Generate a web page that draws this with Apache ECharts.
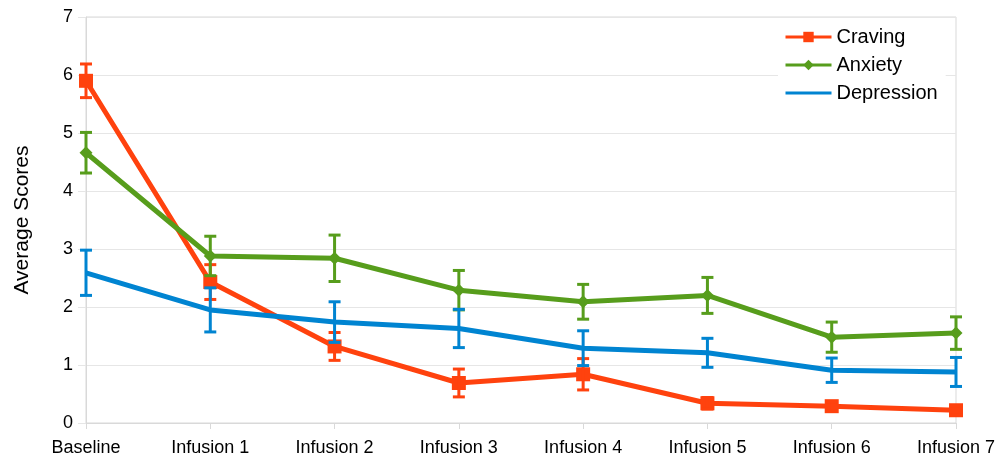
<!DOCTYPE html>
<html>
<head>
<meta charset="utf-8">
<script src="https://cdn.jsdelivr.net/npm/echarts@6/dist/echarts.min.js"></script>
<style>
html,body{margin:0;padding:0;background:#fff;}
#chart{width:1003px;height:466px;}
</style>
</head>
<body>
<div id="chart"></div>
<script>
const categories = ['Baseline','Infusion 1','Infusion 2','Infusion 3','Infusion 4','Infusion 5','Infusion 6','Infusion 7'];
const craving = [5.9, 2.43, 1.32, 0.69, 0.84, 0.34, 0.29, 0.22];
const cravingErr = [0.29, 0.3, 0.24, 0.24, 0.27, 0.1, 0.08, 0.08];
const anxiety = [4.66, 2.88, 2.84, 2.29, 2.09, 2.2, 1.48, 1.55];
const anxietyErr = [0.35, 0.34, 0.4, 0.34, 0.3, 0.31, 0.26, 0.28];
const depression = [2.59, 1.95, 1.74, 1.63, 1.29, 1.21, 0.91, 0.88];
const depressionErr = [0.39, 0.38, 0.35, 0.33, 0.3, 0.25, 0.21, 0.25];
const yTicks = [0, 1, 2, 3, 4, 5, 6, 7];

const C_CRAV = '#ff420e', C_ANX = '#579d1c', C_DEP = '#0084d1';
const FONT = 'Liberation Sans, Arial, sans-serif';

function errData(vals, errs) {
  return vals.map((v, i) => [i, v - errs[i], v + errs[i]]);
}
function errSeries(name, vals, errs, color) {
  return {
    type: 'custom',
    name: name + ' err',
    z: 5,
    silent: true,
    data: errData(vals, errs),
    encode: { x: 0, y: [1, 2] },
    renderItem: function (params, api) {
      const x = api.value(0);
      const lo = api.coord([x, api.value(1)]);
      const hi = api.coord([x, api.value(2)]);
      const hw = 6;
      const style = { stroke: color, lineWidth: 3 };
      return {
        type: 'group',
        children: [
          { type: 'line', shape: { x1: lo[0], y1: lo[1], x2: hi[0], y2: hi[1] }, style: style },
          { type: 'line', shape: { x1: lo[0] - hw, y1: lo[1], x2: lo[0] + hw, y2: lo[1] }, style: style },
          { type: 'line', shape: { x1: hi[0] - hw, y1: hi[1], x2: hi[0] + hw, y2: hi[1] }, style: style }
        ]
      };
    }
  };
}

const chart = echarts.init(document.getElementById('chart'), null, { renderer: 'canvas' });
chart.setOption({
  animation: false,
  backgroundColor: '#fff',
  textStyle: { fontFamily: FONT },
  grid: { left: 86, right: 47, top: 17, bottom: 43, show: true, borderColor: '#d9d9d9', borderWidth: 1, backgroundColor: 'transparent' },
  legend: {
    data: [
      { name: 'Craving' },
      { name: 'Anxiety' },
      { name: 'Depression', itemStyle: { opacity: 0 } }
    ],
    orient: 'vertical',
    left: 778,
    top: 22,
    padding: [5, 8, 5, 6],
    backgroundColor: '#fff',
    itemWidth: 46,
    itemHeight: 13,
    itemGap: 8,
    lineStyle: { width: 3 },
    textStyle: { fontSize: 20, color: '#000', fontFamily: FONT, lineHeight: 20 }
  },
  xAxis: {
    type: 'category',
    data: categories,
    boundaryGap: false,
    axisLine: { show: true, lineStyle: { color: '#d9d9d9', width: 1 } },
    axisTick: { show: true, length: 6, lineStyle: { color: '#d9d9d9' } },
    axisLabel: { fontSize: 18, color: '#000', margin: 16, fontFamily: FONT },
    splitLine: { show: false }
  },
  yAxis: {
    type: 'value',
    min: 0, max: 7, interval: 1,
    name: 'Average Scores',
    nameLocation: 'middle',
    nameGap: 53,
    nameMoveOverlap: false,
    nameTextStyle: { fontSize: 21, color: '#000', fontFamily: FONT },
    axisLine: { show: true, lineStyle: { color: '#d9d9d9', width: 1 } },
    axisTick: { show: true, length: 8, lineStyle: { color: '#e6e6e6' } },
    axisLabel: { fontSize: 18, color: '#000', margin: 13, fontFamily: FONT,
      formatter: function (v) { return yTicks.indexOf(v) >= 0 ? String(v) : ''; } },
    splitLine: { show: true, lineStyle: { color: '#e6e6e6', width: 1 } }
  },
  series: [
    {
      name: 'Craving', type: 'line', data: craving, z: 3,
      symbol: 'rect', symbolSize: 14,
      lineStyle: { color: C_CRAV, width: 5 }, itemStyle: { color: C_CRAV }
    },
    {
      name: 'Anxiety', type: 'line', data: anxiety, z: 3,
      symbol: 'diamond', symbolSize: 13,
      lineStyle: { color: C_ANX, width: 5 }, itemStyle: { color: C_ANX }
    },
    {
      name: 'Depression', type: 'line', data: depression, z: 3,
      symbol: 'none',
      lineStyle: { color: C_DEP, width: 5 }, itemStyle: { color: C_DEP }
    },
    errSeries('Craving', craving, cravingErr, C_CRAV),
    errSeries('Anxiety', anxiety, anxietyErr, C_ANX),
    errSeries('Depression', depression, depressionErr, C_DEP)
  ]
});
</script>
</body>
</html>
